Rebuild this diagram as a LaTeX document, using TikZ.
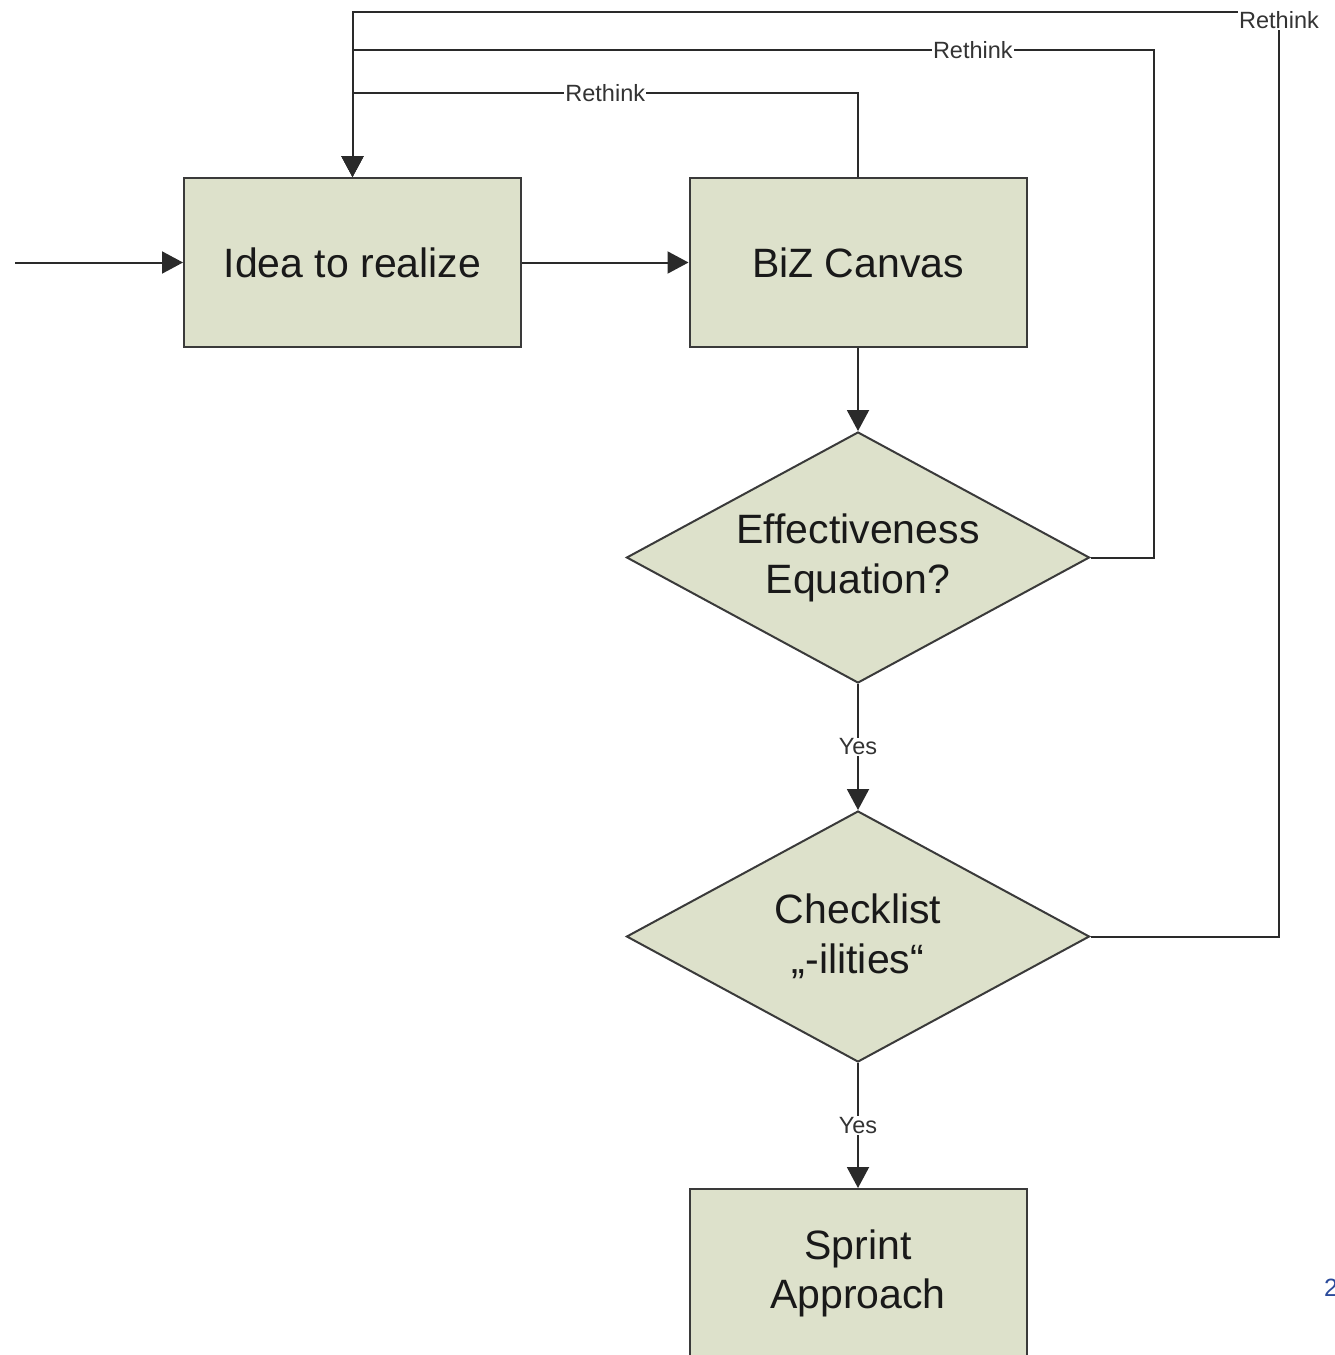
\documentclass[tikz,border=0pt]{standalone}
\usepackage{fontspec}
\setmainfont[Ligatures=NoCommon]{Liberation Sans}
\usetikzlibrary{arrows.meta,shapes.geometric}
\definecolor{boxfill}{HTML}{DDE1CB}
\definecolor{boxline}{HTML}{3A3A3A}
\definecolor{lineclr}{HTML}{2A2A2A}
\definecolor{labclr}{HTML}{333333}
\definecolor{pgblue}{HTML}{2B4B9B}
\tikzset{
  boxnode/.style={draw=boxline, line width=2pt, fill=boxfill, minimum width=337pt, minimum height=169pt,
    inner sep=0pt, align=center, text=black!90, font=\fontsize{41}{49}\selectfont},
  decnode/.style={shape=diamond, draw=boxline, line width=2pt, fill=boxfill, minimum width=463pt, minimum height=251pt,
    aspect=1.84, inner sep=0pt, align=center, text=black!90, font=\fontsize{41}{50}\selectfont},
  conn/.style={draw=lineclr, line width=2pt},
  arr/.style={conn, -{Triangle[length=21pt,width=22pt]}},
  lab/.style={fill=white, inner sep=1pt, text=labclr, font=\fontsize{23.5}{28}\selectfont},
}
\begin{document}
\begin{tikzpicture}[x=1pt,y=-1pt]
\useasboundingbox[fill=white] (0,0) rectangle (1334,1355);
\node[boxnode] (idea) at (352.5,262.5) {Idea to realize};
\node[boxnode] (biz) at (858,262.5) {BiZ Canvas};
\node[decnode] (eff) at (858,557.5) {Effectiveness\\Equation?};
\node[decnode] (chk) at (858,936.5) {Checklist\\„-ilities“};
\node[boxnode] (sprint) at (858,1273.5) {Sprint\\Approach};
\coordinate (start) at (15,262.5);
\coordinate (r1) at (352.5,93);
\coordinate (r2a) at (1154,557.5);
\coordinate (r2) at (352.5,50);
\coordinate (r3a) at (1279,12);
\coordinate (r3) at (352.5,12);
% main flow
\draw[arr] (start) -- (idea.west);
\draw[arr] (idea.east) -- (biz.west);
\draw[arr] (biz.south) -- (eff.north);
\draw[arr] (eff.south) -- node[lab]{Yes} (chk.north);
\draw[arr] (chk.south) -- node[lab]{Yes} (sprint.north);
% rethink loops
\draw[arr] (chk.east) -| (r3a) -- (r3) -- (idea.north);
\node[lab, inner sep=1.5pt] (rl3) at (1279,20) {Rethink};
\draw[arr] (eff.east) -- (r2a) |- node[lab, pos=0.613]{Rethink} (r2) -- (idea.north);
\draw[arr] (biz.north) |- node[lab, pos=0.75]{Rethink} (r1) -- (idea.north);
% page number (cut off at the right edge, as in the reference)
\node[anchor=base west, inner sep=0pt, text=pgblue, font=\fontsize{25}{30}\selectfont] (pg) at (1324,1296) {2};
\end{tikzpicture}
\end{document}
